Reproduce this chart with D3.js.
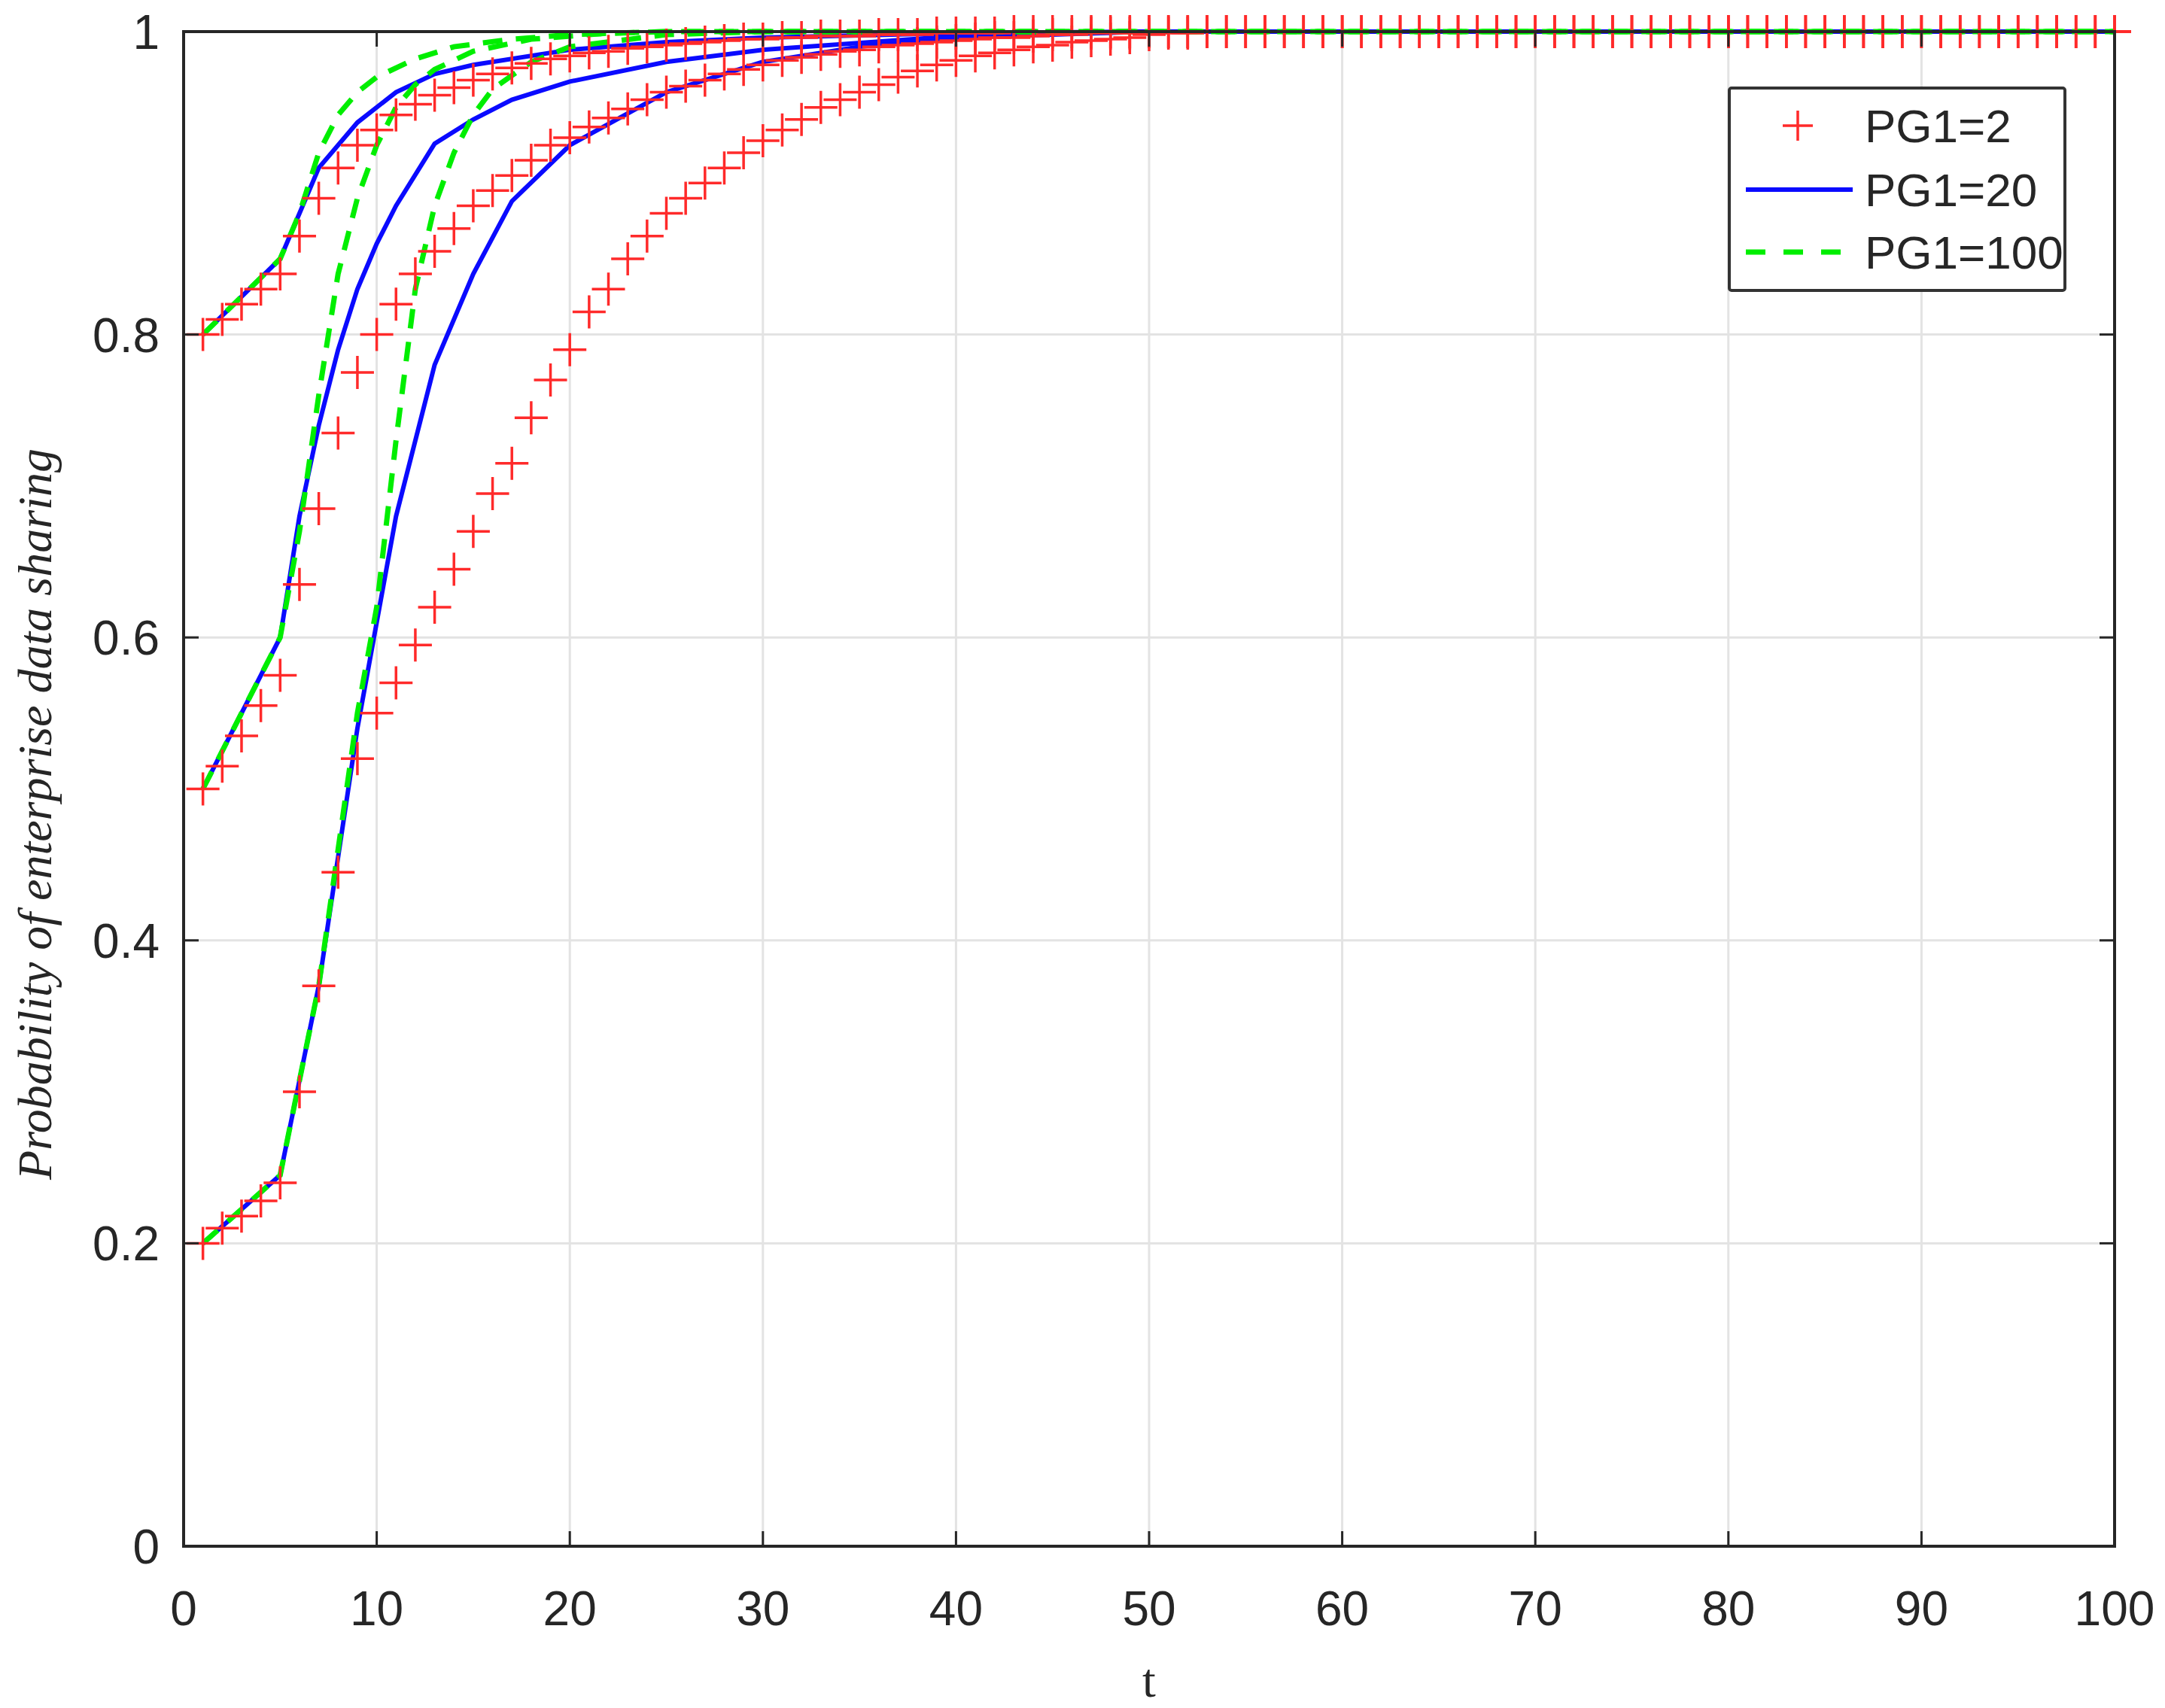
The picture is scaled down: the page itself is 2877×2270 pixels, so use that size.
<!DOCTYPE html>
<html>
<head>
<meta charset="utf-8">
<script src="https://cdn.jsdelivr.net/npm/d3@7"></script>
<style>
  body { margin: 0; background: #fff; }
  text { fill: #262626; }
</style>
</head>
<body>
<svg id="chart"></svg>
<script>
// x ticks / y ticks
const xTicks = [0, 10, 20, 30, 40, 50, 60, 70, 80, 90, 100];
const yTicks = [0, 0.2, 0.4, 0.6, 0.8, 1];
const legendLabels = ['PG1=2', 'PG1=20', 'PG1=100'];

// PG1=2 (red markers), one value per t = 1..N, then 1 for the rest
const red08 = [0.8, 0.81, 0.82, 0.83, 0.84, 0.865, 0.89, 0.91, 0.925, 0.935, 0.945, 0.952, 0.958, 0.963, 0.968,
  0.972, 0.976, 0.979, 0.982, 0.984, 0.986, 0.987, 0.989, 0.99, 0.991, 0.992, 0.993, 0.994, 0.995, 0.995,
  0.996, 0.996, 0.997, 0.997, 0.997, 0.998, 0.998, 0.998, 0.999, 0.999, 0.999, 0.999];
const red05 = [0.5, 0.515, 0.535, 0.555, 0.575, 0.635, 0.685, 0.735, 0.775, 0.8, 0.82, 0.84, 0.855, 0.87, 0.885,
  0.895, 0.905, 0.915, 0.925, 0.93, 0.937, 0.943, 0.949, 0.955, 0.96, 0.964, 0.968, 0.972, 0.975, 0.978,
  0.981, 0.983, 0.985, 0.987, 0.988, 0.99, 0.991, 0.992, 0.993, 0.994, 0.995, 0.996, 0.996, 0.997, 0.998,
  0.998, 0.999, 0.999, 0.999];
const red02 = [0.2, 0.21, 0.218, 0.228, 0.24, 0.3, 0.37, 0.445, 0.52, 0.55, 0.57, 0.595, 0.62, 0.645, 0.67,
  0.695, 0.715, 0.745, 0.77, 0.79, 0.815, 0.83, 0.85, 0.865, 0.88, 0.89, 0.9, 0.91, 0.92, 0.928,
  0.935, 0.942, 0.95, 0.955, 0.96, 0.965, 0.97, 0.974, 0.978, 0.981, 0.984, 0.986, 0.988, 0.99, 0.991,
  0.993, 0.994, 0.995, 0.996, 0.998, 0.999, 0.999];

// PG1=20 (blue solid), [t, value]
const blue08 = [[1, 0.8], [5, 0.85], [7, 0.91], [9, 0.94], [11, 0.96], [13, 0.972], [15, 0.978], [20, 0.988],
  [25, 0.993], [30, 0.996], [40, 0.999], [50, 1], [100, 1]];
const blue05 = [[1, 0.5], [5, 0.6], [6, 0.68], [7, 0.74], [8, 0.79], [9, 0.83], [10, 0.86], [11, 0.885],
  [13, 0.926], [15, 0.942], [17, 0.955], [20, 0.967], [25, 0.98], [30, 0.988], [40, 0.997], [50, 1], [100, 1]];
const blue02 = [[1, 0.2], [5, 0.245], [7, 0.37], [9, 0.54], [11, 0.68], [13, 0.78], [15, 0.84], [17, 0.888],
  [20, 0.925], [25, 0.96], [30, 0.98], [35, 0.99], [40, 0.996], [50, 1], [100, 1]];

// PG1=100 (green dashed), [t, value]
const green08 = [[1, 0.8], [5, 0.85], [6, 0.88], [7, 0.92], [8, 0.945], [9, 0.96], [10, 0.97], [12, 0.982],
  [14, 0.99], [17, 0.995], [20, 0.998], [25, 1], [100, 1]];
const green05 = [[1, 0.5], [5, 0.6], [6, 0.67], [7, 0.76], [8, 0.84], [9, 0.89], [10, 0.925], [11, 0.95],
  [12, 0.965], [13, 0.975], [15, 0.987], [18, 0.995], [22, 0.999], [25, 1], [100, 1]];
const green02 = [[1, 0.2], [5, 0.245], [7, 0.37], [9, 0.55], [10, 0.62], [11, 0.73], [12, 0.83], [13, 0.885],
  [14, 0.92], [15, 0.945], [16, 0.962], [18, 0.98], [20, 0.99], [25, 0.998], [30, 1], [100, 1]];

const W = 2877, H = 2270;
const margin = { left: 244, right: W - 2810, top: 42, bottom: H - 2055 };
const width = W - margin.left - margin.right;
const height = H - margin.top - margin.bottom;

const svg = d3.select('#chart').attr('width', W).attr('height', H);
const g = svg.append('g').attr('transform', `translate(${margin.left},${margin.top})`);

const x = d3.scaleLinear().domain([0, 100]).range([0, width]);
const y = d3.scaleLinear().domain([0, 1]).range([height, 0]);

// grid
g.append('g').selectAll('line').data(xTicks.slice(1, -1)).enter().append('line')
  .attr('x1', d => x(d)).attr('x2', d => x(d)).attr('y1', 0).attr('y2', height)
  .attr('stroke', '#e3e3e3').attr('stroke-width', 3);
g.append('g').selectAll('line').data(yTicks.slice(1, -1)).enter().append('line')
  .attr('y1', d => y(d)).attr('y2', d => y(d)).attr('x1', 0).attr('x2', width)
  .attr('stroke', '#e3e3e3').attr('stroke-width', 3);

// lines
const line = d3.line().x(d => x(d[0])).y(d => y(d[1]));
const toPts = arr => d3.range(1, 101).map(t => [t, t <= arr.length ? arr[t - 1] : 1]);

[blue08, blue05, blue02].forEach(s => {
  g.append('path').datum(s).attr('d', line).attr('fill', 'none')
    .attr('stroke', '#0a0aff').attr('stroke-width', 6);
});
[green08, green05, green02].forEach(s => {
  g.append('path').datum(s).attr('d', line).attr('fill', 'none')
    .attr('stroke', '#00ee00').attr('stroke-width', 7).attr('stroke-dasharray', '26,18');
});

// red + markers
const plus = (sel, s) => sel.attr('d', `M${-s},0H${s}M0,${-s}V${s}`)
  .attr('stroke', '#ff2a2a').attr('stroke-width', 3.5).attr('fill', 'none');
[red08, red05, red02].forEach(arr => {
  g.append('g').selectAll('path').data(toPts(arr)).enter().append('path')
    .attr('transform', d => `translate(${x(d[0])},${y(d[1])})`)
    .call(plus, 22);
});

// axes box
const ax = '#262626';
g.append('rect').attr('width', width).attr('height', height)
  .attr('fill', 'none').attr('stroke', ax).attr('stroke-width', 4);

const tick = 20;
xTicks.forEach(t => {
  g.append('line').attr('x1', x(t)).attr('x2', x(t)).attr('y1', height).attr('y2', height - tick)
    .attr('stroke', ax).attr('stroke-width', 3);
  g.append('line').attr('x1', x(t)).attr('x2', x(t)).attr('y1', 0).attr('y2', tick)
    .attr('stroke', ax).attr('stroke-width', 3);
  g.append('text').attr('x', x(t)).attr('y', height + 105).attr('text-anchor', 'middle')
    .style('font-family', 'Liberation Sans, Arial').style('font-size', '64px').text(t);
});
yTicks.forEach(v => {
  g.append('line').attr('x1', 0).attr('x2', tick).attr('y1', y(v)).attr('y2', y(v))
    .attr('stroke', ax).attr('stroke-width', 3);
  g.append('line').attr('x1', width).attr('x2', width - tick).attr('y1', y(v)).attr('y2', y(v))
    .attr('stroke', ax).attr('stroke-width', 3);
  g.append('text').attr('x', -32).attr('y', y(v)).attr('dy', '0.36em').attr('text-anchor', 'end')
    .style('font-family', 'Liberation Sans, Arial').style('font-size', '64px').text(v);
});

// axis titles
svg.append('text').attr('x', margin.left + width / 2).attr('y', 2255).attr('text-anchor', 'middle')
  .style('font-family', 'Liberation Serif, serif').style('font-size', '64px').text('t');
svg.append('text').attr('transform', `translate(68,${margin.top + 1040}) rotate(-90)`)
  .attr('text-anchor', 'middle').style('font-family', 'Liberation Serif, serif')
  .style('font-style', 'italic').style('font-size', '64px').text('Probability of enterprise data sharing');

// legend
const lg = svg.append('g').attr('transform', 'translate(2298,117)');
lg.append('rect').attr('width', 446).attr('height', 269).attr('fill', '#fff')
  .attr('stroke', '#333').attr('stroke-width', 4).attr('rx', 3);
const rowY = [50, 135, 218];
lg.append('path').attr('transform', `translate(91,${rowY[0]})`).call(plus, 20);
lg.append('line').attr('x1', 22).attr('x2', 164).attr('y1', rowY[1]).attr('y2', rowY[1])
  .attr('stroke', '#0a0aff').attr('stroke-width', 6);
lg.append('line').attr('x1', 22).attr('x2', 164).attr('y1', rowY[2]).attr('y2', rowY[2])
  .attr('stroke', '#00ee00').attr('stroke-width', 7).attr('stroke-dasharray', '26,24');
legendLabels.forEach((l, i) => {
  lg.append('text').attr('x', 180).attr('y', rowY[i]).attr('dy', '0.36em')
    .style('font-family', 'Liberation Sans, Arial').style('font-size', '62px').text(l);
});
</script>
</body>
</html>
